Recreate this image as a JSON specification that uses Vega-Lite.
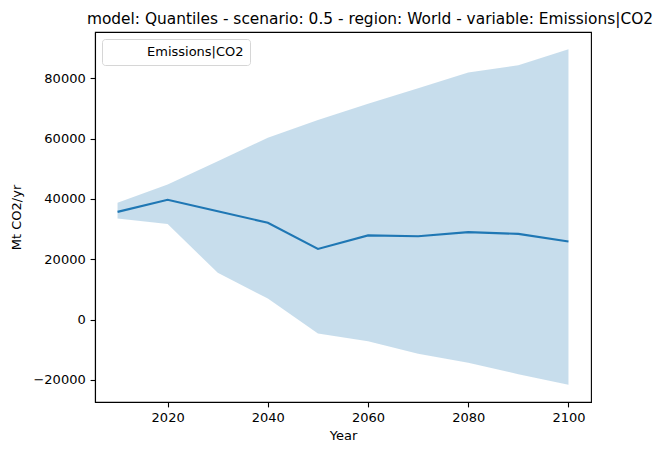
{
  "$schema": "https://vega.github.io/schema/vega-lite/v6.json",
  "width": 496,
  "height": 370,
  "autosize": "none",
  "padding": {"left": 95, "top": 32, "right": 67, "bottom": 53},
  "background": "white",
  "title": {
    "text": "model: Quantiles - scenario: 0.5 - region: World - variable: Emissions|CO2",
    "font": "DejaVu Sans",
    "fontSize": 15.4,
    "fontWeight": "normal",
    "color": "black",
    "offset": 5,
    "dx": 27
  },
  "config": {
    "font": "DejaVu Sans",
    "view": {"stroke": "black", "strokeWidth": 1.1},
    "axis": {
      "labelFont": "DejaVu Sans",
      "titleFont": "DejaVu Sans",
      "labelFontSize": 13,
      "titleFontSize": 13,
      "titleFontWeight": "normal",
      "labelColor": "black",
      "titleColor": "black",
      "domainColor": "black",
      "domainWidth": 1.1,
      "tickColor": "black",
      "tickWidth": 1.1,
      "tickSize": 4.9,
      "labelPadding": 4.9,
      "grid": false
    }
  },
  "data": {
    "values": [
      {"year": 2010, "median": 35700, "lower": 33500, "upper": 38700, "series": "Emissions|CO2"},
      {"year": 2020, "median": 39700, "lower": 31700, "upper": 44800, "series": "Emissions|CO2"},
      {"year": 2030, "median": 35900, "lower": 15500, "upper": 52500, "series": "Emissions|CO2"},
      {"year": 2040, "median": 32100, "lower": 7000, "upper": 60300, "series": "Emissions|CO2"},
      {"year": 2050, "median": 23400, "lower": -4600, "upper": 66100, "series": "Emissions|CO2"},
      {"year": 2060, "median": 27900, "lower": -7200, "upper": 71500, "series": "Emissions|CO2"},
      {"year": 2070, "median": 27600, "lower": -11300, "upper": 76700, "series": "Emissions|CO2"},
      {"year": 2080, "median": 29000, "lower": -14300, "upper": 81900, "series": "Emissions|CO2"},
      {"year": 2090, "median": 28400, "lower": -18100, "upper": 84300, "series": "Emissions|CO2"},
      {"year": 2100, "median": 25900, "lower": -21600, "upper": 89600, "series": "Emissions|CO2"}
    ]
  },
  "encoding": {
    "x": {
      "field": "year",
      "type": "quantitative",
      "title": "Year",
      "scale": {"domain": [2005.5, 2104.5], "nice": false, "zero": false},
      "axis": {"values": [2020, 2040, 2060, 2080, 2100], "format": "d", "titlePadding": 5}
    }
  },
  "layer": [
    {
      "mark": {"type": "area", "color": "#1f77b4", "opacity": 0.25},
      "encoding": {
        "y": {
          "field": "lower",
          "type": "quantitative",
          "title": "Mt CO2/yr",
          "scale": {"domain": [-27300, 95300], "nice": false, "zero": false},
          "axis": {"values": [-20000, 0, 20000, 40000, 60000, 80000], "format": "d", "titlePadding": 9}
        },
        "y2": {"field": "upper"}
      }
    },
    {
      "mark": {"type": "line", "strokeWidth": 2.1},
      "encoding": {
        "y": {"field": "median", "type": "quantitative"},
        "color": {
          "field": "series",
          "type": "nominal",
          "scale": {"domain": ["Emissions|CO2"], "range": ["#1f77b4"]},
          "legend": {
            "title": null,
            "orient": "top-left",
            "offset": 7,
            "padding": 6,
            "strokeColor": "#d6d6d6",
            "fillColor": "white",
            "cornerRadius": 3,
            "symbolOpacity": 0,
            "symbolSize": 100,
            "labelOffset": 26,
            "labelFont": "DejaVu Sans",
            "labelFontSize": 13,
            "labelColor": "black"
          }
        }
      }
    }
  ]
}
